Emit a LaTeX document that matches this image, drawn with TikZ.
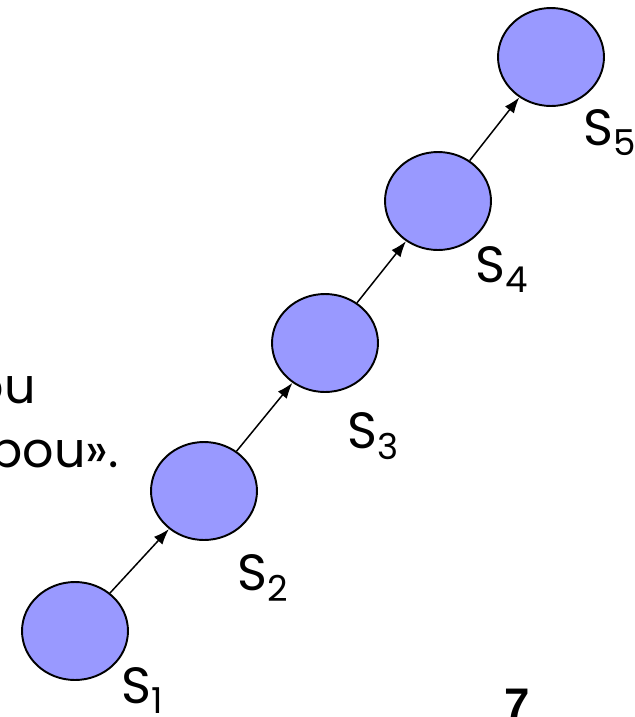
\documentclass[tikz,border=0pt]{standalone}
\usepackage{fontspec}
\setmainfont{Poppins}
\newfontfamily\numfont{Liberation Sans}
\usetikzlibrary{arrows.meta, shapes.geometric}
\definecolor{etatbleu}{RGB}{153,153,255}

\begin{document}
\begin{tikzpicture}[x=0.02cm, y=-0.02cm,
		>={Latex[length=9pt,width=6.5pt]},
		etat/.style={ellipse, draw=black, line width=1.1pt, fill=etatbleu,
			minimum width=2.12cm, minimum height=1.96cm, inner sep=0pt},
		nom/.style={anchor=base west, inner sep=0pt,
			font=\fontsize{29}{31}\selectfont},
		txt/.style={anchor=base east, inner sep=0pt,
			font=\fontsize{28}{30}\selectfont}
		]
		\useasboundingbox (0,0) rectangle (635,717);
		\clip (0,0) rectangle (635,717);
		
		% texte coupe a gauche
		\node[txt] (l1) at (36,403) {ou};
		\node[txt] (l2) at (119,467) {pou».};
		
		% les etats
		\node[etat] (s1) at (75,631) {};
		\node[etat] (s2) at (204,491) {};
		\node[etat] (s3) at (325,343) {};
		\node[etat] (s4) at (438,201) {};
		\node[etat] (s5) at (551,57) {};
		
		\node[nom] (n1) at (121,703) {S\textsubscript{1}};
		\node[nom] (n2) at (237,590) {S\textsubscript{2}};
		\node[nom] (n3) at (347,448) {S\textsubscript{3}};
		\node[nom] (n4) at (475,282) {S\textsubscript{4}};
		\node[nom] (n5) at (583,145) {S\textsubscript{5}};
		
		\foreach \a/\b in {s1/s2, s2/s3, s3/s4, s4/s5}
		\draw[->, line width=0.85pt] (\a) -- (\b);
		
		\node[anchor=base, inner sep=0pt, font=\numfont\bfseries\fontsize{26}{28}\selectfont] (num) at (517,720) {7};
	\end{tikzpicture}
\end{document}
